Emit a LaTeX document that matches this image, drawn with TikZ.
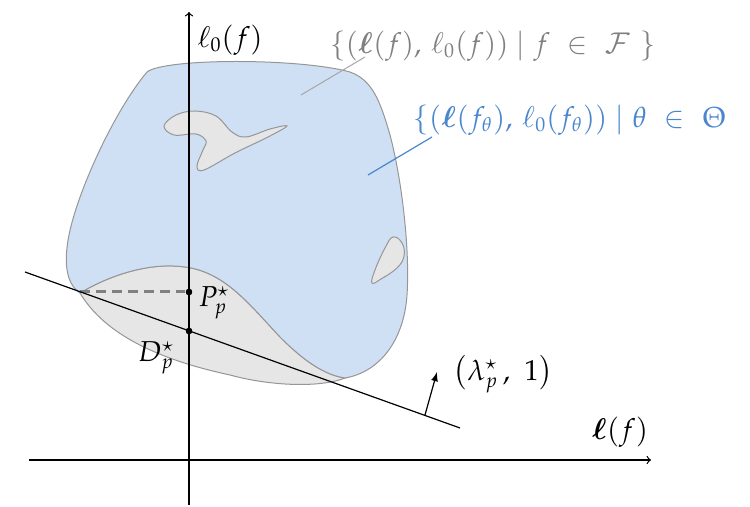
\documentclass[tikz,border=0pt]{standalone}
\usepackage{mathpazo}
\usepackage{bm}
\definecolor{bleuclair}{RGB}{207,224,245}
\definecolor{grisclair}{RGB}{230,230,230}
\definecolor{grisbord}{RGB}{150,150,150}
\definecolor{bleutexte}{RGB}{74,134,206}
\definecolor{gristexte}{RGB}{128,128,128}
\begin{document}
\begin{tikzpicture}[x=0.5pt,y=-0.5pt]
		% Styles (MODIFIABLES)
		\tikzstyle{axe}=[->,line width=0.6pt]
		\tikzstyle{droite}=[-,line width=0.6pt]
		\tikzstyle{fleche}=[-latex,line width=0.6pt]
		\tikzstyle{ensemble}=[draw=grisbord,line width=0.5pt]
		\tikzstyle{trou}=[ensemble,fill=grisclair]
		\tikzstyle{point}=[circle,fill=black,inner sep=0pt,minimum size=3.2pt]
		\tikzstyle{etiquette}=[font=\Large,inner sep=1pt]
		% Dimensions (MODIFIABLES)
		\def\AxeX{460}
		\def\AxeY{189}
		\useasboundingbox (0,0) rectangle (750,507);
		% Ensembles
		\draw[trou] (80,293) .. controls (110,275) and (150,262) .. (185,267)
			.. controls (225,272) and (250,305) .. (280,337)
			.. controls (305,362) and (325,375) .. (345,378)
			.. controls (320,388) and (270,386) .. (230,375)
			.. controls (160,360) and (105,335) .. (80,293) -- cycle;
		\draw[ensemble,fill=bleuclair] (80,293) .. controls (65,283) and (64,260) .. (69,235)
			.. controls (78,190) and (115,110) .. (147,72)
			.. controls (165,58) and (300,58) .. (350,72)
			.. controls (372,80) and (380,100) .. (390,135)
			.. controls (402,180) and (410,250) .. (407,295)
			.. controls (404,340) and (380,372) .. (345,378)
			.. controls (325,375) and (305,362) .. (280,337)
			.. controls (250,305) and (225,272) .. (185,267)
			.. controls (150,262) and (110,275) .. (80,293) -- cycle;
		\draw[trou] plot[smooth cycle,tension=0.6] coordinates {(164,126) (176,115) (195,111) (216,116) (232,132) (246,137) (270,129) (287,126) (268,137) (235,153) (204,170) (197,166) (203,150) (206,141) (196,134) (174,135)};
		\draw[trou] plot[smooth cycle,tension=0.7] coordinates {(393,237) (402,243) (404,256) (397,268) (381,279) (372,283) (375,270) (385,248)};
		% Noeuds
		\coordinate (Ybas) at (\AxeY,505);
		\coordinate (Yhaut) at (\AxeY,12);
		\coordinate (Xgauche) at (29,\AxeX);
		\coordinate (Xdroite) at (651,\AxeX);
		\coordinate (Dg) at (25,272);
		\coordinate (Dd) at (460,428);
		\coordinate (T) at (80,292);
		\coordinate (N0) at (425,415);
		\coordinate (N1) at (437,372);
		\coordinate (lienF) at (365,57);
		\coordinate (pointF) at (301,95);
		\coordinate (lienT) at (432,137);
		\coordinate (pointT) at (368,175);
		\node[point] (P) at (\AxeY,292) {};
		\node[point] (D) at (\AxeY,331) {};
		\node[etiquette,anchor=west] (axeY) at (195,40) {$\ell_0(f)$};
		\node[etiquette] (axeX) at (620,432) {$\bm{\ell}(f)$};
		\node[etiquette] (Pp) at (214,303) {$P_p^\star$};
		\node[etiquette] (Dp) at (156,358) {$D_p^\star$};
		\node[etiquette] (normale) at (503,374) {$\big(\lambda_p^\star\,,\ 1\big)$};
		\node[etiquette,text=gristexte] (ensF) at (493,46) {$\{(\bm{\ell}(f),\, \ell_0(f)) \mid f\ \in\ \mathcal{F}\ \}$};
		\node[etiquette,text=bleutexte,anchor=west] (ensT) at (411,120) {$\{(\bm{\ell}(f_\theta),\, \ell_0(f_\theta)) \mid \theta\ \in\ \Theta$};
		% Arcs
		\draw[gristexte!70,line width=0.5pt] (lienF)--(pointF);
		\draw[bleutexte,line width=0.6pt] (lienT)--(pointT);
		\draw[dashed,gristexte,line width=1.5pt,dash pattern=on 5pt off 3pt] (T)--(P);
		\draw[axe] (Ybas)--(Yhaut);
		\draw[axe] (Xgauche)--(Xdroite);
		\draw[droite] (Dg)--(Dd);
		\draw[fleche] (N0)--(N1);
		\node[point] at (P) {};
		\node[point] at (D) {};
	\end{tikzpicture}
\end{document}
